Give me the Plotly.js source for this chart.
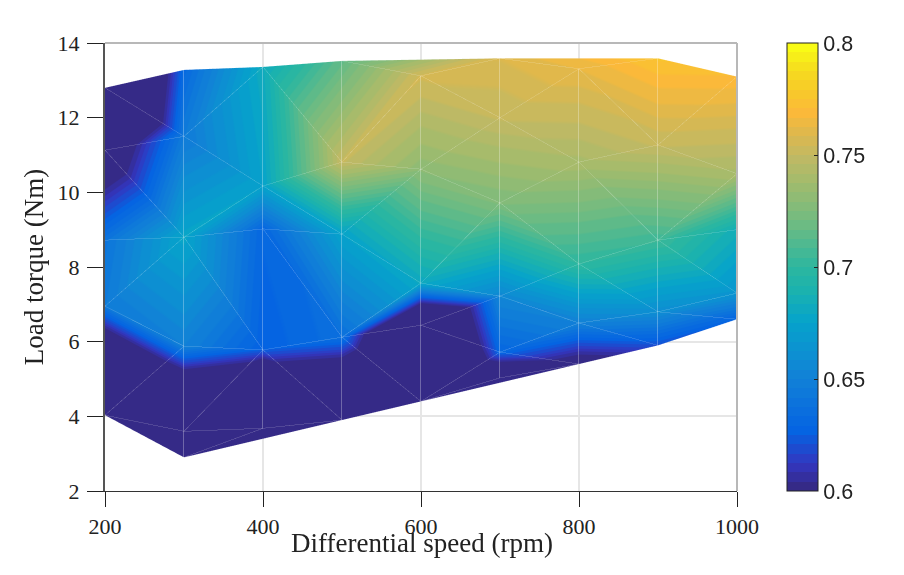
<!DOCTYPE html>
<html><head><meta charset="utf-8">
<script src="https://cdn.plot.ly/plotly-3.0.1.min.js"></script>
<style>html,body{margin:0;padding:0;background:#fff}#c{width:904px;height:575px}</style></head>
<body><div id="c"></div>
<script>
const xNodes=[200,200,200,200,200,300,300,300,300,300,300,400,400,400,400,400,500,500,500,500,500,600,600,600,600,600,700,700,700,700,700,700,800,800,800,800,800,900,900,900,900,900,1000,1000,1000,1000,1000];
const yNodes=[4.03,6.95,8.72,11.13,12.8,2.9,3.6,5.88,8.8,11.5,13.28,3.68,5.78,9.02,10.17,13.36,3.9,6.12,8.88,10.81,13.52,4.4,6.44,7.57,10.62,13.12,5.03,5.72,7.22,9.72,12,13.59,5.4,6.5,8.08,10.81,13.31,5.9,6.8,8.72,11.27,13.59,6.6,7.3,9,10.5,13.1];
const effNodes=[0.44,0.645,0.64,0.576,0.49,0.40,0.48,0.65,0.677,0.645,0.632,0.43,0.625,0.63,0.675,0.682,0.5,0.637,0.675,0.75,0.715,0.46,0.52,0.68,0.73,0.755,0.56,0.63,0.655,0.725,0.75,0.758,0.59,0.65,0.70,0.74,0.762,0.62,0.66,0.705,0.75,0.775,0.628,0.665,0.685,0.74,0.77];
const triI=[4,4,3,3,2,1,1,0,0, 10,9,9,8,8,8,7,6,6,5, 15,15,14,14,13,13,12,12, 20,20,19,19,18,18,17,17,17, 25,25,24,24,23,23,22,22,21,21, 31,31,36,30,29,29,28,28,27,27, 36,36,35,35,34,34,33,33, 41,40,40,39,39,39,38,38];
const triJ=[10,9,9,8,8,8,7,7,6, 15,15,14,14,13,12,12,12,11,11, 20,19,19,18,18,17,17,16, 25,31,25,24,24,23,23,22,21, 31,30,30,29,29,28,28,27,27,32, 41,36,35,35,35,34,34,33,33,32, 41,40,40,39,39,38,38,37, 46,46,45,45,44,43,43,42];
const triK=[9,3,8,2,1,7,0,6,5, 9,14,8,13,12,7,6,11,5,16, 19,14,18,13,17,12,16,11, 19,25,24,18,23,17,22,21,16, 30,24,29,23,28,22,27,21,26,26, 36,30,30,29,34,28,33,27,32,26, 40,35,39,34,38,33,37,32, 40,45,39,44,43,38,42,37];
const xTicks=[200,400,600,800,1000];
const yTicks=[2,4,6,8,10,12,14];
const cTicks=[0.6,0.65,0.7,0.75,0.8];
const cTickText=['0.6','0.65','0.7','0.75','0.8'];
const rampStops=[[0,'#352a87'],[0.05,'#3336bf'],[0.125,'#0563e2'],[0.25,'#1282d6'],[0.375,'#06a3cb'],[0.45,'#1cb3ad'],[0.5,'#2db79f'],[0.6,'#6fbb82'],[0.7,'#a6bb6b'],[0.75,'#c0b964'],[0.8,'#dcb84f'],[0.85,'#fbb93a'],[0.9,'#f8c92a'],[0.95,'#f5dd1e'],[1,'#f9fb15']];
function rgb(h){return [1,3,5].map(i=>parseInt(h.substr(i,2),16));}
function ramp(t){for(let s=1;s<rampStops.length;s++){if(t<=rampStops[s][0]){const a=rampStops[s-1],b=rampStops[s],f=(t-a[0])/(b[0]-a[0]),A=rgb(a[1]),B=rgb(b[1]);return 'rgb('+A.map((v,i)=>Math.round(v+(B[i]-v)*f)).join(',')+')';}}return rampStops[rampStops.length-1][1];}
const N=48,scale=[];for(let n=0;n<N;n++){const c=ramp(n/(N-1));scale.push([n/N,c]);scale.push([(n+1)/N,c]);}

const vx=[],vy=[],vz=[],ex=[],ey=[],ez=[];
for(let t=0;t<triI.length;t++){for(const [a,b] of [[triI[t],triJ[t]],[triJ[t],triK[t]],[triK[t],triI[t]]]){
  const tx=xNodes[a]===xNodes[b]?vx:ex,ty=xNodes[a]===xNodes[b]?vy:ey,tz=xNodes[a]===xNodes[b]?vz:ez;
  tx.push(xNodes[a],xNodes[b],null);ty.push(yNodes[a],yNodes[b],null);tz.push(0.1,0.1,null);}}

const PL=105,PR=737,PT=43,PB=491,W=904,H=575;
const traces=[{type:'mesh3d',x:xNodes,y:yNodes,z:xNodes.map(()=>0),i:triI,j:triJ,k:triK,intensity:effNodes,intensitymode:'vertex',cmin:0.6,cmax:0.8,colorscale:scale,flatshading:false,
 lighting:{ambient:1,diffuse:0,specular:0,fresnel:0,roughness:1},lightposition:{x:0,y:0,z:1000},hoverinfo:'skip',scene:'scene',
 colorbar:{thickness:31,thicknessmode:'pixels',len:448,lenmode:'pixels',x:(787-PL)/(PR-PL),xanchor:'left',y:1,yanchor:'top',xpad:0,ypad:0,outlinecolor:'#222',outlinewidth:1,tickmode:'array',tickvals:cTicks,ticktext:cTickText,ticks:'inside',ticklen:4,tickcolor:'#222',tickfont:{family:'Liberation Sans',size:21.5,color:'#222'}}},
 {type:'scatter3d',mode:'lines',x:vx,y:vy,z:vz,opacity:0.35,line:{color:'#ffffff',width:1},hoverinfo:'skip',showlegend:false,scene:'scene'},
 {type:'scatter3d',mode:'lines',x:ex,y:ey,z:ez,opacity:0.15,line:{color:'#ffffff',width:1},hoverinfo:'skip',showlegend:false,scene:'scene'},
 {type:'scatter',x:[],y:[],xaxis:'x',yaxis:'y',showlegend:false}];
const axisFont={family:'Liberation Serif',size:22,color:'#222'};
const layout={width:W,height:H,margin:{l:PL,r:W-PR,t:PT,b:H-PB},paper_bgcolor:'#fff',plot_bgcolor:'#fff',showlegend:false,
 xaxis:{range:[200,1000],domain:[0,1],tickvals:xTicks,ticks:'outside',ticklen:15,tickcolor:'#222',tickfont:axisFont,ticklabelstandoff:1,showline:true,linecolor:'#333',linewidth:1,showgrid:true,gridcolor:'#e6e6e6',gridwidth:2,zeroline:false},
 yaxis:{range:[2,14],domain:[0,1],tickvals:yTicks,ticks:'outside',ticklen:16,tickcolor:'#222',tickfont:axisFont,ticklabelstandoff:3,showline:true,linecolor:'#555',linewidth:2,showgrid:true,gridcolor:'#e6e6e6',gridwidth:2,zeroline:false,title:{text:'Load torque (Nm)',font:{family:'Liberation Serif',size:27,color:'#222'},standoff:6}},
 annotations:[{text:'Differential speed (rpm)',xref:'paper',yref:'paper',x:(422-PL)/(PR-PL),y:(PB-543)/(PB-PT),xanchor:'center',yanchor:'middle',showarrow:false,font:{family:'Liberation Serif',size:27,color:'#222'}}],
 shapes:[{type:'line',xref:'paper',yref:'paper',x0:0,x1:1,y0:1,y1:1,line:{color:'#b8b8b8',width:2}},{type:'line',xref:'paper',yref:'paper',x0:1,x1:1,y0:0,y1:1,line:{color:'#b8b8b8',width:2}}],
 scene:{domain:{x:[0,1],y:[0,1]},dragmode:false,aspectmode:'manual',aspectratio:{x:2*(PR-PL)/(PB-PT),y:2,z:0.2},bgcolor:'rgba(0,0,0,0)',
  camera:{eye:{x:0,y:0,z:1},center:{x:0,y:0,z:0},up:{x:0,y:1,z:0},projection:{type:'orthographic'}},
  xaxis:{range:[200,1000],visible:false,showspikes:false},yaxis:{range:[2,14],visible:false,showspikes:false},zaxis:{range:[-1,1],visible:false,showspikes:false}}};
Plotly.newPlot('c',traces,layout,{displayModeBar:false});
</script></body></html>
